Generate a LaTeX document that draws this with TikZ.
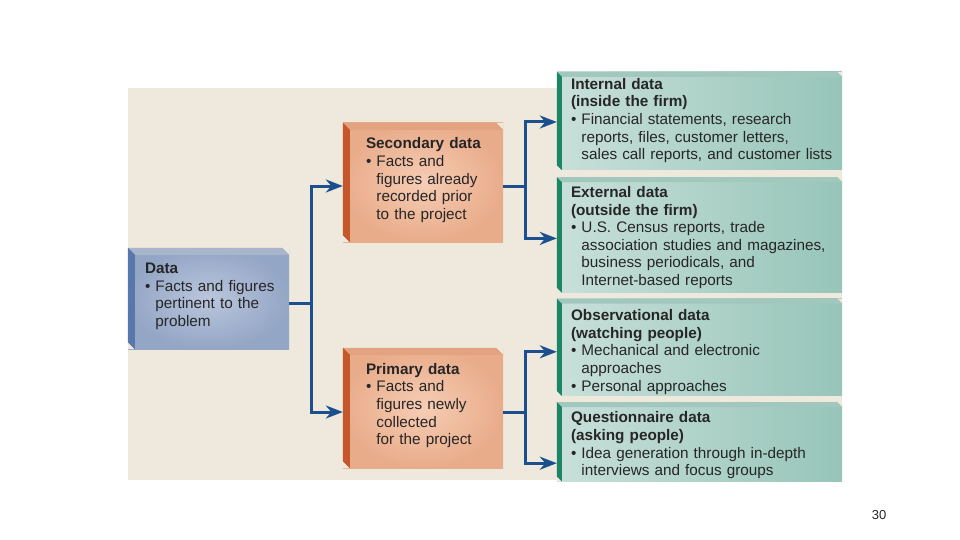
\documentclass[tikz,border=0pt]{standalone}
\usepackage{fontspec}
\setmainfont{Liberation Sans}
\usetikzlibrary{positioning,arrows.meta}

\definecolor{bgbeige}{HTML}{EEE9DC}
\definecolor{linkblue}{HTML}{1B4F8E}
\definecolor{bluein}{HTML}{BAC6DC}
\definecolor{blueout}{HTML}{94A6C6}
\definecolor{bluetop}{HTML}{A9B5CB}
\definecolor{blueside}{HTML}{5777AD}
\definecolor{orangein}{HTML}{F6CDB5}
\definecolor{orangeout}{HTML}{E9AC8A}
\definecolor{orangetop}{HTML}{E3A380}
\definecolor{orangeside}{HTML}{C4582B}
\definecolor{tealleft}{HTML}{C8E0D9}
\definecolor{tealright}{HTML}{97C5B9}
\definecolor{tealtop}{HTML}{A2C8BE}
\definecolor{tealside}{HTML}{1C8566}

\newcommand{\ind}{\phantom{\textbullet\ }}
% lines of a box, raised by #1 inside the box
\newcommand{\btext}[2]{\raisebox{#1}[\height][\depth]{%
\begin{tabular}{@{}l@{}}#2\end{tabular}}}

\begin{document}
\begin{tikzpicture}[
x=1pt, y=-1pt,
node distance=6pt,
every node/.style={
font=\fontsize{15.3}{17.6}\selectfont,
text=black!85
},
box/.style={
rectangle,
align=left,
inner ysep=0pt
},
bluebox/.style={box, inner color=bluein, outer color=blueout,
minimum width=161pt, text width=127pt, inner xsep=17pt},
orangebox/.style={box, inner color=orangein, outer color=orangeout,
minimum width=160pt, text width=114pt, inner xsep=23pt},
tealbox/.style={box, left color=tealleft, right color=tealright,
minimum width=285pt, text width=257pt, inner xsep=14pt},
link/.style={-{Stealth[length=17pt,width=13pt]}, line width=3pt, draw=linkblue}
]

\useasboundingbox (0,0) rectangle (960,540);
\fill[bgbeige] (128,88) rectangle (842,480);

% left column
\node (data) [bluebox, minimum height=101pt] at (208.5,298.5)
{\btext{2pt}{\textbf{Data}\\
\textbullet\ Facts and figures\\
\ind pertinent to the\\
\ind problem}};

% middle column
\node (secondary) [orangebox, minimum height=119pt] at (423,182.5)
{\btext{2pt}{\textbf{Secondary data}\\
\textbullet\ Facts and\\
\ind figures already\\
\ind recorded prior\\
\ind to the project}};

\node (primary) [orangebox, minimum height=120pt] at (423,408)
{\btext{2pt}{\textbf{Primary data}\\
\textbullet\ Facts and\\
\ind figures newly\\
\ind collected\\
\ind for the project}};

% right column
\node (internal) [tealbox, minimum height=98pt] at (699.5,121)
{\btext{0pt}{\textbf{Internal data}\\
\textbf{(inside the firm)}\\
\textbullet\ Financial statements, research\\
\ind reports, files, customer letters,\\
\ind sales call reports, and customer lists}};

\node (external) [tealbox, minimum height=115pt, below=7pt of internal]
{\btext{-3pt}{\textbf{External data}\\
\textbf{(outside the firm)}\\
\textbullet\ U.S. Census reports, trade\\
\ind association studies and magazines,\\
\ind business periodicals, and\\
\ind Internet-based reports}};

\node (observ) [tealbox, minimum height=97pt, below=of external]
{\btext{-5pt}{\textbf{Observational data}\\
\textbf{(watching people)}\\
\textbullet\ Mechanical and electronic\\
\ind approaches\\
\textbullet\ Personal approaches}};

\node (quest) [tealbox, minimum height=79pt, below=of observ]
{\btext{-4pt}{\textbf{Questionnaire data}\\
\textbf{(asking people)}\\
\textbullet\ Idea generation through in-depth\\
\ind interviews and focus groups}};

% bevelled edges
\foreach \b/\top/\side/\d in {data/bluetop/blueside/7, secondary/orangetop/orangeside/7,
primary/orangetop/orangeside/7, internal/tealtop/tealside/5, external/tealtop/tealside/5,
observ/tealtop/tealside/5, quest/tealtop/tealside/5} {
\fill[bgbeige] (\b.north east) -- ++(-\d,0) -- ++(\d,\d) -- cycle;
\fill[bgbeige] (\b.south west) -- ++(0,-\d) -- ++(\d,\d) -- cycle;
\fill[\top] (\b.north west) -- ([xshift=-\d pt]\b.north east) -- ++(\d,\d)
-- ([shift={(\d pt,-\d pt)}]\b.north west) -- cycle;
\fill[\side] (\b.north west) -- ([shift={(\d pt,-\d pt)}]\b.north west)
-- ([xshift=\d pt]\b.south west) -- ([yshift=\d pt]\b.south west) -- cycle;
}

\draw[link] ([yshift=-4.5pt]data.east) -- ++(22,0) |- ([yshift=-3.5pt]secondary.west);
\draw[link] ([yshift=-4.5pt]data.east) -- ++(22,0) |- ([yshift=-4pt]primary.west);
\draw[link] ([yshift=-3.5pt]secondary.east) -- ++(22,0) |- ([yshift=-1pt]internal.west);
\draw[link] ([yshift=-3.5pt]secondary.east) -- ++(22,0) |- ([yshift=-3.5pt]external.west);
\draw[link] ([yshift=-4pt]primary.east) -- ++(22,0) |- ([yshift=-4.5pt]observ.west);
\draw[link] ([yshift=-4pt]primary.east) -- ++(22,0) |- ([yshift=-21.5pt]quest.west);

\node (pagenum) [font=\fontsize{13}{15}\selectfont] at (879,515) {30};

\end{tikzpicture}
\end{document}
